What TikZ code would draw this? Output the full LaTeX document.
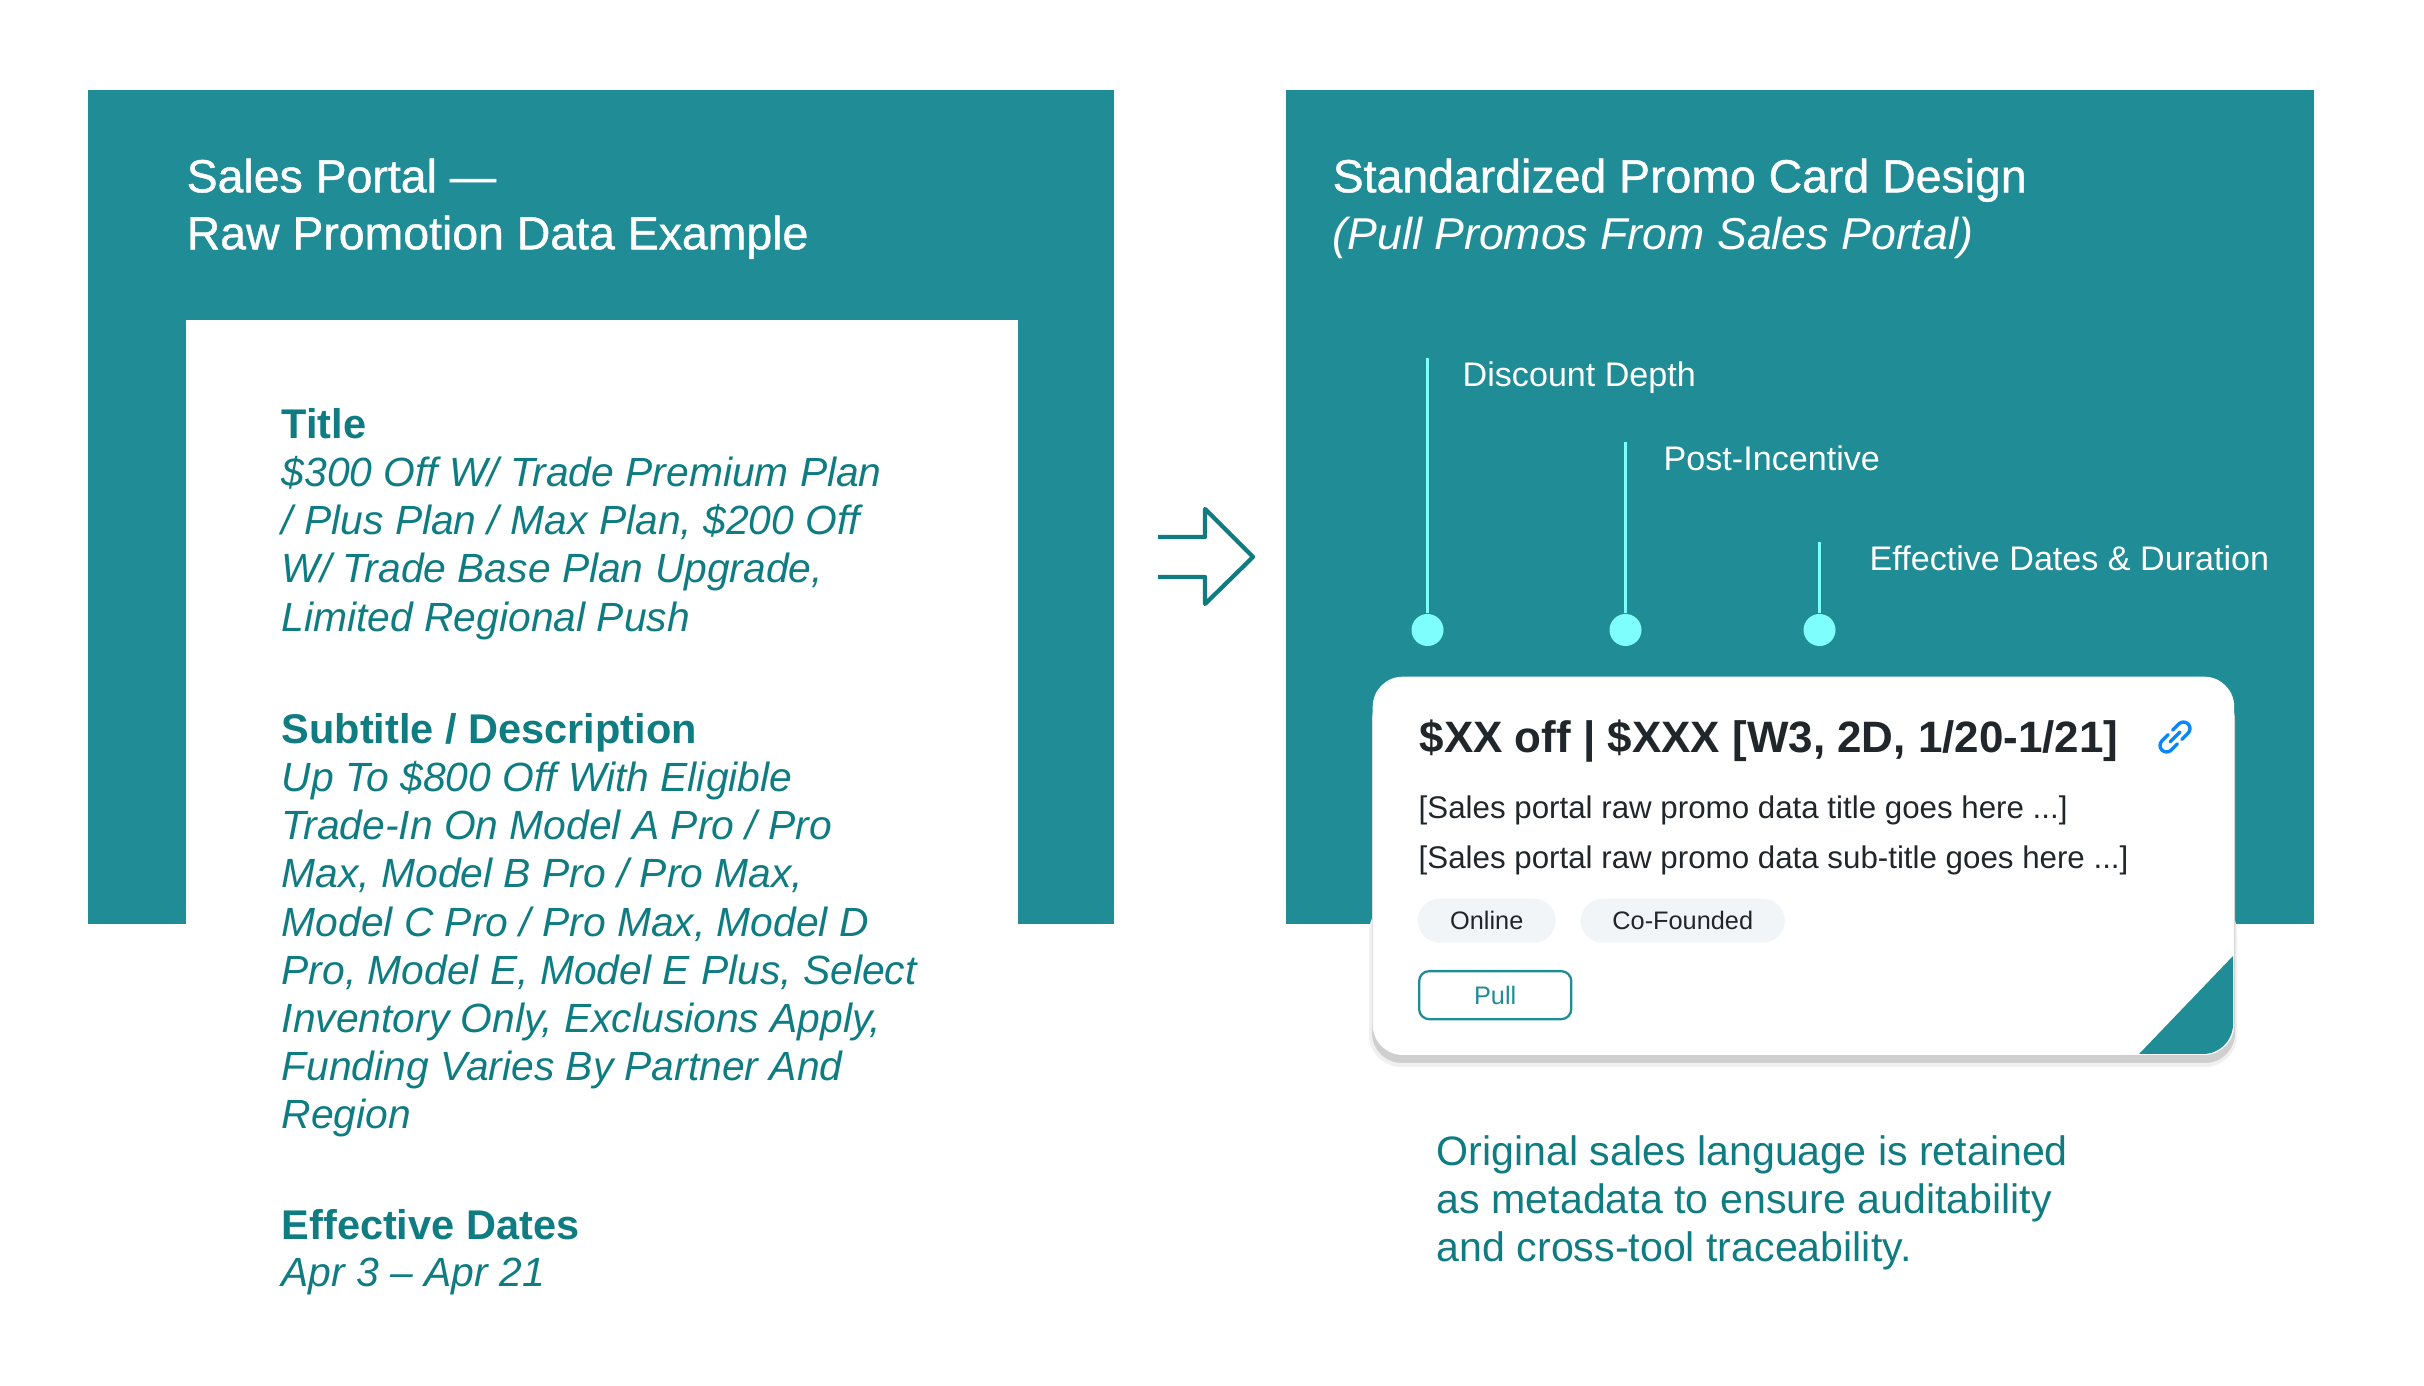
\documentclass[tikz,border=0pt]{standalone}
\usepackage{fontspec}
\setmainfont{Liberation Sans}
\newfontfamily\mediumfont[FakeBold=0.9]{Liberation Sans}
\usetikzlibrary{positioning}
\definecolor{panelteal}{HTML}{1F8C96}
\definecolor{inkteal}{HTML}{0F7C82}
\definecolor{markcyan}{HTML}{7FFEFE}
\definecolor{cardink}{HTML}{20262A}
\definecolor{pillgrey}{HTML}{F2F5F8}
\definecolor{linkblue}{HTML}{0A84FF}
\tikzset{
    panel/.style={fill=panelteal,draw=none,inner sep=0pt,anchor=north west},
    headtext/.style={text=white,inner sep=0pt,anchor=north west,align=left,font=\fontsize{13.2pt}{16.2pt}\mediumfont},
    grouphead/.style={text=inkteal,inner sep=0pt,anchor=base west,font=\fontsize{11.8pt}{13.66pt}\selectfont\bfseries},
    bodytext/.style={text=inkteal,inner sep=0pt,anchor=north west,align=left,font=\fontsize{11.6pt}{13.66pt}\selectfont\itshape},
    marklabel/.style={text=white,inner sep=0pt,anchor=base west,font=\fontsize{9.7pt}{11pt}\selectfont},
    markdot/.style={circle,fill=markcyan,draw=none,minimum size=0.32cm,inner sep=0pt},
    markline/.style={draw=markcyan,line width=0.85pt},
    cardline/.style={text=cardink,inner sep=0pt,anchor=base west,font=\fontsize{8.9pt}{10pt}\selectfont},
    pill/.style={fill=pillgrey,rounded corners=0.22cm,inner sep=0pt,minimum height=0.44cm,text=cardink,font=\fontsize{7.2pt}{9pt}\selectfont},
}
\begin{document}
\begin{tikzpicture}[x=0.01cm,y=-0.01cm]
    \useasboundingbox (0,0) rectangle (2424,1386);
    % Panels
    \node[panel,minimum width=10.26cm,minimum height=8.34cm] (leftpanel) at (87,89) {};
    \node[panel,minimum width=10.28cm,minimum height=8.34cm] (rightpanel) at (1285,89) {};
    \node[fill=white,inner sep=0pt,anchor=north west,minimum width=8.32cm,minimum height=7.17cm] (sheet) at (185,319) {};
    % Headings
    \node[headtext] (lefthead) at (186,158) {Sales Portal —\\Raw Promotion Data Example};
    \node[headtext] (righthead) at (1332,158) {Standardized Promo Card Design\\\fontsize{12.7pt}{16.2pt}\rmfamily\itshape (Pull Promos From Sales Portal)};
    % Raw promotion data
    \node[grouphead] (titlehead) at (281,439) {Title};
    \node[bodytext] (titlebody) at (281,456) {\$300 Off W/ Trade Premium Plan\\/ Plus Plan / Max Plan, \$200 Off\\W/ Trade Base Plan Upgrade,\\Limited Regional Push};
    \node[grouphead] (subhead) at (281,744) {Subtitle / Description};
    \node[bodytext] (subbody) at (281,761) {Up To \$800 Off With Eligible\\Trade-In On Model A Pro / Pro\\Max, Model B Pro / Pro Max,\\Model C Pro / Pro Max, Model D\\Pro, Model E, Model E Plus, Select\\Inventory Only, Exclusions Apply,\\Funding Varies By Partner And\\Region};
    \node[grouphead] (datehead) at (281,1239) {Effective Dates};
    \node[bodytext] (datebody) at (281,1257) {Apr 3 – Apr 21};
    % Arrow
    \draw[inkteal,line width=1.2pt,line join=round] (1158,537) -- (1205,537) -- (1205,509) -- (1253,557) -- (1205,604) -- (1205,577) -- (1158,577);
    % Markers
    \node[markdot] (dotdepth) at (1427.5,630) {};
    \node[markdot] (dotprice) at (1625.5,630) {};
    \node[markdot] (dotdates) at (1819.5,630) {};
    \coordinate (topdepth) at (1427.5,358);
    \coordinate (topprice) at (1625.5,442);
    \coordinate (topdates) at (1819.5,542);
    \draw[markline] (dotdepth.north) -- (topdepth);
    \draw[markline] (dotprice.north) -- (topprice);
    \draw[markline] (dotdates.north) -- (topdates);
    \node[marklabel] (labdepth) at (1462,387) {Discount Depth};
    \node[marklabel] (labprice) at (1663,471) {Post-Incentive};
    \node[marklabel] (labdates) at (1869,571) {Effective Dates \& Duration};
    % Card
    \fill[black!6,rounded corners=0.32cm] (1369,900) rectangle (2237,1067);
    \fill[black!19,rounded corners=0.3cm] (1372,690) rectangle (2235,1063);
    \node[fill=white,rounded corners=0.3cm,inner sep=0pt,anchor=north west,minimum width=8.61cm,minimum height=3.78cm] (card) at (1372,676) {};
    \fill[panelteal] (2233,956) -- (2233,1024) arc[start angle=0,end angle=90,radius=30] -- (2139,1054) -- cycle;
    \node[inner sep=0pt,anchor=base west,text=cardink,font=\fontsize{12.5pt}{14pt}\selectfont\bfseries] (cardtitle) at (1419,753) {\$XX off | \$XXX [W3, 2D, 1/20-1/21]};
    \node[cardline] (cardone) at (1418,819) {[Sales portal raw promo data title goes here ...]};
    \node[cardline] (cardtwo) at (1418,869) {[Sales portal raw promo data sub-title goes here ...]};
    \node[pill,anchor=north west,minimum width=1.38cm] (pillonline) at (1417,898) {Online};
    \node[pill,anchor=north west,minimum width=2.04cm] (pillcofound) at (1580,898) {Co-Founded};
    \node[draw=panelteal,line width=0.65pt,rounded corners=0.1cm,inner sep=0pt,anchor=north west,minimum width=1.52cm,minimum height=0.48cm,text=panelteal,font=\fontsize{7.2pt}{9pt}\selectfont] (pullbutton) at (1418,970) {Pull};
    % Link icon
    \begin{scope}[shift={(2175,737)},rotate=45,linkblue,line width=0.95pt,line cap=round]
        \draw (3,-6.5) -- (12,-6.5) arc[start angle=-90,end angle=90,radius=6.5] -- (3,6.5);
        \draw (-3,6.5) -- (-12,6.5) arc[start angle=90,end angle=270,radius=6.5] -- (-3,-6.5);
        \draw (-7,0) -- (7,0);
    \end{scope}
    % Note
    \node[bodytext,font=\fontsize{11.7pt}{13.66pt}\selectfont] (note) at (1436,1135) {Original sales language is retained\\as metadata to ensure auditability\\and cross-tool traceability.};
\end{tikzpicture}
\end{document}
